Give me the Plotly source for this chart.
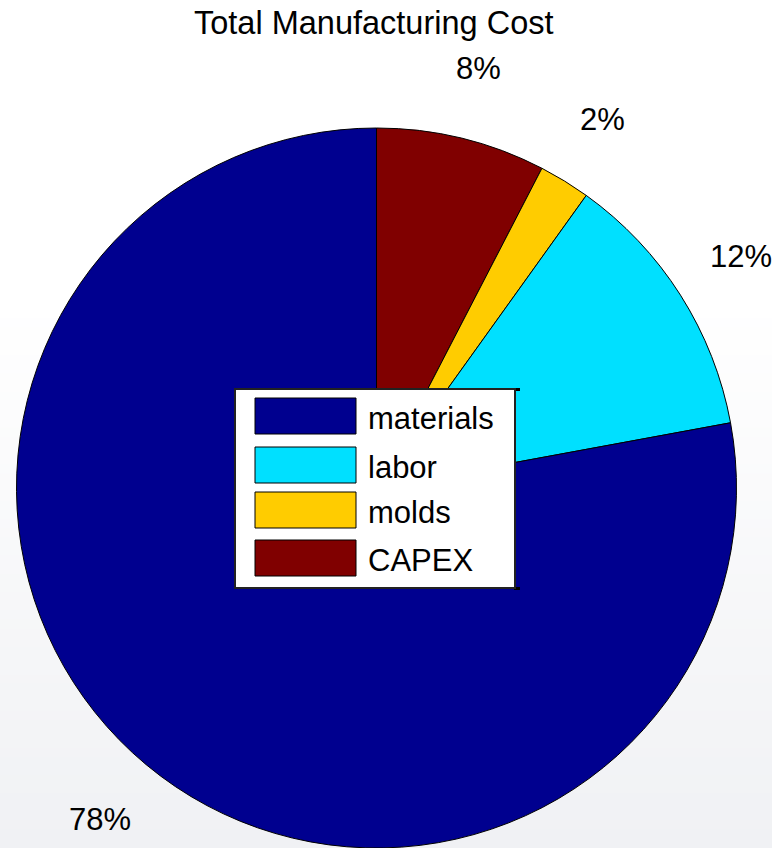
import numpy as np
import plotly.graph_objects as go

# Cost breakdown (percent of total manufacturing cost)
categories = ["materials", "labor", "molds", "CAPEX"]
shares = [77.9, 12.2, 2.3, 7.6]
colors = ["#00008F", "#00E0FF", "#FFCC00", "#800000"]

W, H = 772, 848
CX, CY, R = 376.5, 488.0, 360.0  # pie centre / radius in pixels (from top-left)
FONT = "Liberation Sans, Arial, sans-serif"


def px(x):
    return x / W


def py(y):
    return 1 - y / H


fig = go.Figure()

# slices laid clockwise from 12 o'clock starting with the last category,
# so materials finishes the circle on the left-hand side
fig.add_trace(go.Pie(
    labels=categories[::-1],
    values=shares[::-1],
    marker=dict(colors=colors[::-1], line=dict(color="black", width=1)),
    sort=False,
    direction="clockwise",
    rotation=0,
    textinfo="none",
    hoverinfo="label+percent",
    showlegend=False,
    domain=dict(x=[px(CX - R), px(CX + R)], y=[py(CY + R), py(CY - R)]),
))

shapes = []
annotations = []

# soft background gradient (white at the top, pale grey at the bottom)
n_bands = 60
for i in range(n_bands):
    y0 = 300 + (H - 300) * i / n_bands
    y1 = 300 + (H - 300) * (i + 1) / n_bands + 1
    t = (i + 0.5) / n_bands
    c = (int(round(255 - 15 * t)), int(round(255 - 14 * t)), int(round(255 - 11 * t)))
    shapes.append(dict(type="rect", xref="paper", yref="paper", layer="below",
                       x0=0, x1=1, y0=py(y1), y1=py(y0),
                       fillcolor="rgb(%d,%d,%d)" % c, line=dict(width=0)))

# percentage labels at 1.2 x radius on each slice's mid-angle
# (angles measured counter-clockwise from 12 o'clock, materials first)
total = float(sum(shares))
cum = 0.0
for v in shares:
    mid = (cum + v / 2) / total * 2 * np.pi
    cum += v
    lx = CX - 1.2 * R * np.sin(mid)
    ly = CY - 1.2 * R * np.cos(mid)
    annotations.append(dict(x=px(lx), y=py(ly), xref="paper", yref="paper",
                            text="%.0f%%" % (v / total * 100), showarrow=False,
                            xanchor="center", yanchor="middle",
                            font=dict(family=FONT, size=31, color="black")))

# title
annotations.append(dict(x=px(373), y=py(23), xref="paper", yref="paper",
                        text="Total Manufacturing Cost", showarrow=False,
                        xanchor="center", yanchor="middle",
                        font=dict(family=FONT, size=32.5, color="black")))

# legend box
LX0, LX1, LY0, LY1 = 235, 515, 389, 588
for (a, b, c, d) in [(LX1 - 1, LX1 + 5, LY0 - 1, LY0 + 2), (LX1 - 1, LX1 + 5, LY1 - 1, LY1 + 2)]:
    shapes.append(dict(type="rect", xref="paper", yref="paper",
                       x0=px(a), x1=px(b), y0=py(d), y1=py(c),
                       fillcolor="black", line=dict(width=0)))
shapes.append(dict(type="rect", xref="paper", yref="paper",
                   x0=px(LX0), x1=px(LX1), y0=py(LY1), y1=py(LY0),
                   fillcolor="white", line=dict(color="#222222", width=2)))

swatch_top = [398, 447, 492, 540]
for name, col, top in zip(categories, colors, swatch_top):
    shapes.append(dict(type="rect", xref="paper", yref="paper",
                       x0=px(255), x1=px(356), y0=py(top + 36), y1=py(top),
                       fillcolor=col, line=dict(color="black", width=1)))
    annotations.append(dict(x=px(366), y=py(top + 20), xref="paper", yref="paper",
                            text=name, showarrow=False,
                            xanchor="left", yanchor="middle",
                            font=dict(family=FONT, size=31, color="black")))

fig.update_layout(
    width=W, height=H,
    margin=dict(l=0, r=0, t=0, b=0),
    paper_bgcolor="white",
    plot_bgcolor="white",
    shapes=shapes,
    annotations=annotations,
    showlegend=False,
)

fig.write_html("out.html")
